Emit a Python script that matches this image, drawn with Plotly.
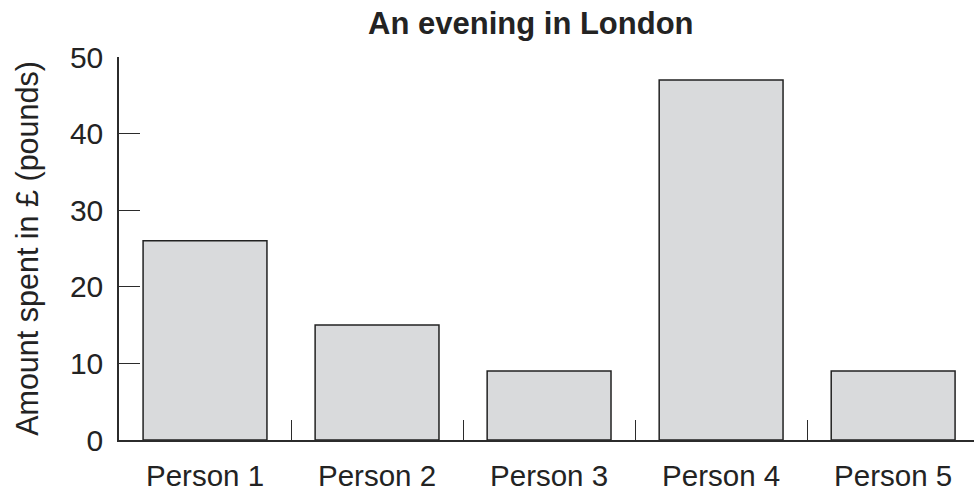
import plotly.graph_objects as go

categories = ["Person 1", "Person 2", "Person 3", "Person 4", "Person 5"]
amounts = [26, 15, 9, 47, 9]
y_ticks = [0, 10, 20, 30, 40, 50]

title_text = "An evening in London"
y_title = "Amount spent in £ (pounds)"

AX = "#2b2b2b"
TXT = "#232323"
FONT = "Liberation Sans"

fig = go.Figure()
fig.add_trace(go.Bar(
    x=categories,
    y=amounts,
    width=0.72,
    marker=dict(color="#d9dadc", line=dict(color="#222222", width=1.5)),
    hoverinfo="x+y",
))

fig.update_layout(
    width=974,
    height=492,
    margin=dict(l=119, r=0, t=57, b=50),
    paper_bgcolor="white",
    plot_bgcolor="white",
    showlegend=False,
    font=dict(family=FONT, size=30, color=TXT),
    title=dict(
        text="<b>" + title_text + "</b>",
        x=0.545, xref="container", xanchor="center",
        y=1, yref="container", yanchor="top", pad=dict(t=12),
        font=dict(family=FONT, size=31, color=TXT),
    ),
)

fig.update_xaxes(
    type="category",
    range=[-0.5, 4.47],
    showline=True, linecolor=AX, linewidth=1.5,
    ticks="inside", tickson="boundaries", ticklen=20, tickwidth=1.3, tickcolor=AX,
    showgrid=False, zeroline=False,
    tickfont=dict(family=FONT, size=29.5, color=TXT),
    ticklabelstandoff=9,
)

fig.update_yaxes(
    range=[0, 50],
    tickvals=y_ticks,
    showline=True, linecolor=AX, linewidth=1.5,
    ticks="inside", ticklen=21, tickwidth=1.3, tickcolor=AX,
    showgrid=False, zeroline=False,
    tickfont=dict(family=FONT, size=30, color=TXT),
    ticklabelstandoff=8,
    title=dict(text=y_title, font=dict(family=FONT, size=30.5, color=TXT), standoff=22),
)

fig.write_html("out.html")
